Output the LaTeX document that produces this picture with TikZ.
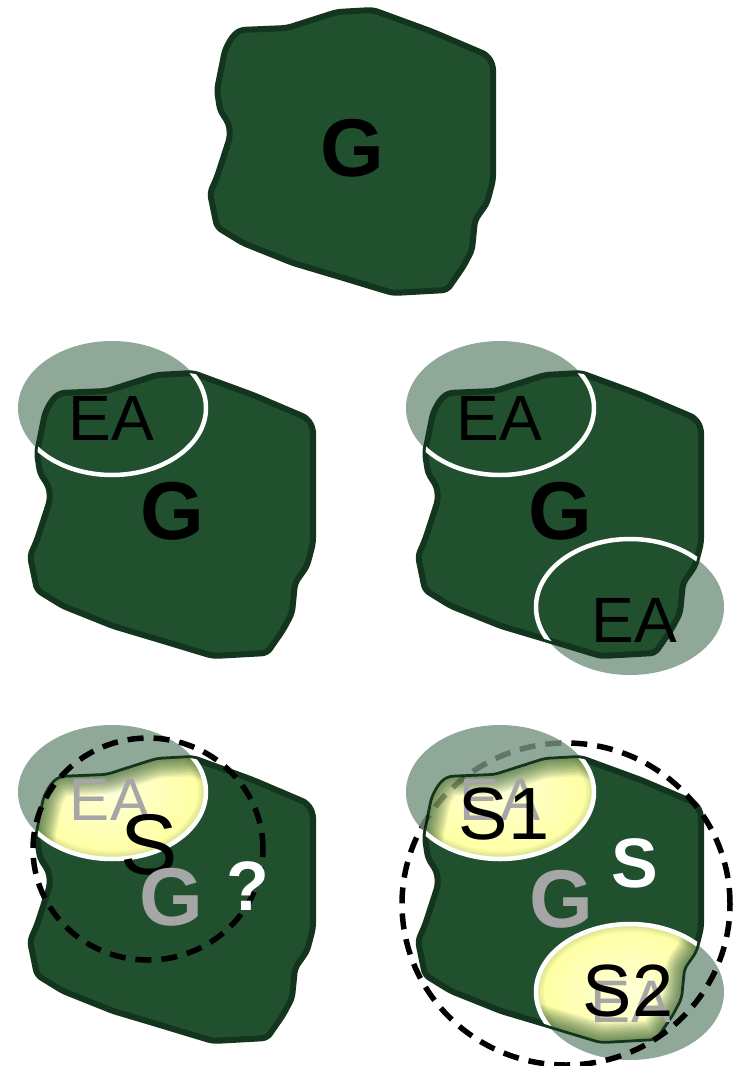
\documentclass[tikz,border=0pt]{standalone}
\usepackage{fontspec}
\setmainfont{Liberation Sans}
\definecolor{blobfill}{RGB}{32,80,46}
\definecolor{blobedge}{RGB}{19,52,29}
\definecolor{eagray}{RGB}{143,168,152}
\definecolor{txtgray}{RGB}{166,166,166}
\definecolor{glowyellow}{RGB}{255,255,160}
\definecolor{glowcenter}{RGB}{255,255,215}
\def\blob{(240,30) -- (287,28) -- (337,12) -- (373,10) -- (433,32) -- (487,55) -- (493,65) -- (493,180) -- (487,203) -- (475,220) -- (472,250) -- (463,267) -- (447,290) -- (393,293) -- (373,287) -- (340,277) -- (293,263) -- (243,243) -- (217,227) -- (210,193) -- (217,177) -- (230,137) -- (229,124) -- (220,110) -- (217,90) -- (225,50) -- (232,37) -- cycle}
\tikzset{
  blobstyle/.style={fill=blobfill, draw=blobedge, line width=6pt, rounded corners=5pt, line join=round},
  eafill/.style={fill=eagray},
  eaedge/.style={draw=white, line width=4.5pt},
  dashcirc/.style={draw=black, line width=5.5pt, dash pattern=on 16pt off 10pt},
  bigG/.style={inner sep=0pt, font=\fontsize{82}{82}\selectfont\bfseries},
  ealbl/.style={inner sep=0pt, font=\fontsize{64}{64}\selectfont},
  ealblsmall/.style={inner sep=0pt, font=\fontsize{60}{60}\selectfont, text=txtgray},
  slbl/.style={inner sep=0pt, font=\fontsize{86}{86}\selectfont},
  snum/.style={inner sep=0pt, font=\fontsize{74}{74}\selectfont},
  whitebold/.style={inner sep=0pt, font=\fontsize{70}{70}\selectfont\bfseries, text=white},
}
\newcommand\glowpart[3]{% center, xr, yr  (inside a scope already shifted)
  \begin{scope}
    \clip[rounded corners=5pt] \blob;
    \clip #1 ellipse [x radius=#2, y radius=#3];
    \shade[inner color=glowcenter, outer color=glowyellow] #1 ellipse [x radius=#2, y radius=#3];
    \foreach \w in {36,33,...,3}{
      \draw[blobfill, line width=\w pt, opacity=0.07, rounded corners=5pt, line join=round] \blob;
    }
    \foreach \w in {16,13,...,4}{
      \draw[blobfill, line width=\w pt, opacity=0.035] #1 ellipse [x radius=#2, y radius=#3];
    }
  \end{scope}
}
\newcommand\whiteedge[3]{%
  \begin{scope}
    \clip[rounded corners=5pt] \blob;
    \draw[eaedge] #1 ellipse [x radius=#2, y radius=#3];
  \end{scope}
}
\begin{document}
\begin{tikzpicture}[x=1pt, y=-1pt]
\useasboundingbox (0,0) rectangle (739,1066);

% ---------- top ----------
\fill[blobstyle] \blob;
\node[bigG] (gTop) at (352,148) {G};

% ---------- middle left ----------
\begin{scope}[shift={(-180,363)}]
  \fill[eafill] (292,45) ellipse [x radius=94pt, y radius=67pt];
  \fill[blobstyle] \blob;
  \whiteedge{(292,45)}{94pt}{67pt}
\end{scope}
\node[ealbl] (eaML) at (111,418) {EA};
\node[bigG] (gML) at (172,511) {G};

% ---------- middle right ----------
\begin{scope}[shift={(208,363)}]
  \fill[eafill] (292,45) ellipse [x radius=94pt, y radius=67pt];
  \fill[eafill] (422,244) ellipse [x radius=94pt, y radius=68pt];
  \fill[blobstyle] \blob;
  \whiteedge{(292,45)}{94pt}{67pt}
  \whiteedge{(422,244)}{94pt}{68pt}
\end{scope}
\node[ealbl] (eaMR1) at (499,418) {EA};
\node[bigG] (gMR) at (560,511) {G};
\node[ealbl] (eaMR2) at (634,620) {EA};

% ---------- bottom left ----------
\begin{scope}[shift={(-180,748)}]
  \fill[eafill] (292,44) ellipse [x radius=94pt, y radius=67pt];
  \fill[blobstyle] \blob;
  \glowpart{(292,44)}{94pt}{67pt}
  \whiteedge{(292,44)}{94pt}{67pt}
\end{scope}
\draw[dashcirc] (148,849) ellipse [x radius=115pt, y radius=111pt];
\node[ealblsmall] (eaBL) at (110,800) {EA};
\node[slbl] (sBL) at (149,845) {S};
\node[bigG, text=txtgray] (gBL) at (171,897) {G};
\node[whitebold] (qBL) at (248,886) {?};

% ---------- bottom right ----------
\begin{scope}[shift={(208,748)}]
  \fill[eafill] (292,44) ellipse [x radius=94pt, y radius=67pt];
  \fill[eafill] (422,244) ellipse [x radius=94pt, y radius=68pt];
  \fill[blobstyle] \blob;
  \glowpart{(292,44)}{94pt}{67pt}
  \glowpart{(422,244)}{94pt}{68pt}
  \whiteedge{(292,44)}{94pt}{67pt}
  \whiteedge{(422,244)}{94pt}{68pt}
\end{scope}
\begin{scope}
  \clip (500,792) ellipse [x radius=94pt, y radius=67pt];
  \draw[dashcirc, opacity=0.3] (566,904) ellipse [x radius=164pt, y radius=161pt];
\end{scope}
\begin{scope}[even odd rule]
  \clip (0,0) rectangle (739,1066) (500,792) ellipse [x radius=94pt, y radius=67pt];
  \draw[dashcirc] (566,904) ellipse [x radius=164pt, y radius=161pt];
\end{scope}
\node[ealblsmall] (eaBR1) at (500,800) {EA};
\node[snum] (s1BR) at (504,814) {S1};
\node[whitebold] (sBR) at (635,863) {S};
\node[bigG, text=txtgray] (gBR) at (561,899) {G};
\node[ealblsmall] (eaBR2) at (631,1002) {EA};
\node[snum] (s2BR) at (628,991) {S2};
\end{tikzpicture}
\end{document}
